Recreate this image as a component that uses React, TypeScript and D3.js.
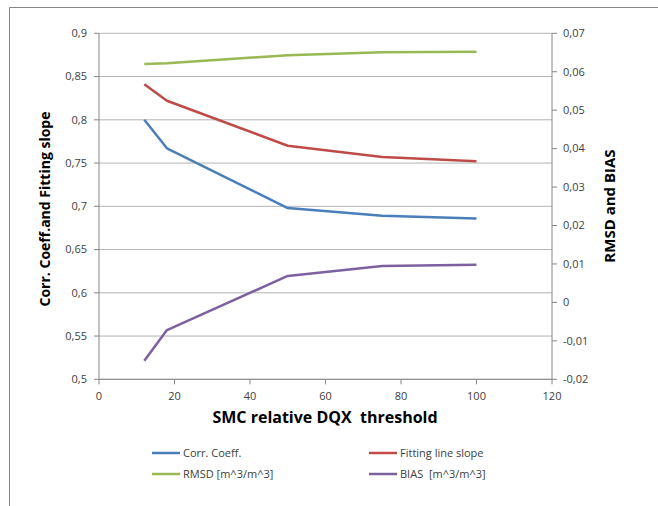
import React from "react";
import * as d3 from "d3";

const thresholds = [12, 18, 50, 75, 100];
const corrCoeff = [0.8, 0.767, 0.698, 0.689, 0.686];
const fittingSlope = [0.841, 0.822, 0.77, 0.757, 0.752];
const rmsd = [0.062, 0.0622, 0.0643, 0.0651, 0.0652];
const bias = [-0.0152, -0.0072, 0.0069, 0.0095, 0.0098];

const xTicks = [0, 20, 40, 60, 80, 100, 120];
const leftTicks = [0.5, 0.55, 0.6, 0.65, 0.7, 0.75, 0.8, 0.85, 0.9];
const rightTicks = [-0.02, -0.01, 0, 0.01, 0.02, 0.03, 0.04, 0.05, 0.06, 0.07];

const W = 658;
const H = 506;
const PL = 99, PR = 552, PT = 33.3, PB = 379.3;
const FONT = "'Open Sans', 'Noto Sans', sans-serif";

const fmt = (v: number) => {
  const s = String(+v.toFixed(3));
  return s.replace(".", ",");
};

export default function App() {
  const x = d3.scaleLinear().domain([0, 120]).range([PL, PR]);
  const yL = d3.scaleLinear().domain([0.5, 0.9]).range([PB, PT]);
  const yR = d3.scaleLinear().domain([-0.02, 0.07]).range([PB, PT]);

  const series = [
    { name: "Corr. Coeff.", vals: corrCoeff, color: "#4A7EBB", axis: yL },
    { name: "Fitting line slope", vals: fittingSlope, color: "#BE4B48", axis: yL },
    { name: "RMSD [m^3/m^3]", vals: rmsd, color: "#98B954", axis: yR },
    { name: "BIAS  [m^3/m^3]", vals: bias, color: "#7D60A0", axis: yR },
  ];

  const legendPos = [
    { lx: 152, ty: 453 },
    { lx: 369, ty: 453 },
    { lx: 152, ty: 474 },
    { lx: 369, ty: 474 },
  ];

  const axisColor = "#868686";
  const gridColor = "#B3B3B3";
  const textColor = "#404040";

  return (
    <svg
      width={W}
      height={H}
      style={{ position: "absolute", left: 0, top: 0, background: "#fff" }}
      fontFamily={FONT}
    >
      <rect x={0} y={0} width={W} height={H} fill="#fff" />
      {/* outer frame */}
      <path d={`M9.5,${H + 2} V7.5 H${W + 2}`} fill="none" stroke={axisColor} strokeWidth={1} />

      {/* gridlines */}
      {leftTicks.map((t) => (
        <line key={"g" + t} x1={PL} x2={PR} y1={yL(t)} y2={yL(t)} stroke={gridColor} strokeWidth={1} />
      ))}

      {/* left axis */}
      <line x1={PL} x2={PL} y1={PT} y2={PB} stroke={axisColor} />
      {leftTicks.map((t) => (
        <g key={"l" + t}>
          <line x1={PL - 5} x2={PL} y1={yL(t)} y2={yL(t)} stroke={axisColor} />
          <text x={87} y={yL(t)} dy="0.35em" textAnchor="end" fontSize={11} fill={textColor}>
            {fmt(t)}
          </text>
        </g>
      ))}

      {/* right axis */}
      <line x1={PR} x2={PR} y1={PT} y2={PB} stroke={axisColor} />
      {rightTicks.map((t) => (
        <g key={"r" + t}>
          <line x1={PR} x2={PR + 5} y1={yR(t)} y2={yR(t)} stroke={axisColor} />
          <text x={563} y={yR(t)} dy="0.35em" textAnchor="start" fontSize={11} fill={textColor}>
            {fmt(t)}
          </text>
        </g>
      ))}

      {/* x axis */}
      <line x1={PL} x2={PR} y1={PB} y2={PB} stroke={axisColor} />
      {xTicks.map((t) => (
        <g key={"x" + t}>
          <line x1={x(t)} x2={x(t)} y1={PB} y2={PB + 5} stroke={axisColor} />
          <text x={x(t)} y={396} dy="0.35em" textAnchor="middle" fontSize={11} fill={textColor}>
            {t}
          </text>
        </g>
      ))}

      {/* lines */}
      {series.map((s) => {
        const line = d3
          .line<number>()
          .x((_, i) => x(thresholds[i]))
          .y((v) => s.axis(v));
        return (
          <path
            key={s.name}
            d={line(s.vals) || ""}
            fill="none"
            stroke={s.color}
            strokeWidth={2.5}
            strokeLinejoin="round"
          />
        );
      })}

      {/* axis titles */}
      <text
        transform={`translate(45,209) rotate(-90)`}
        textAnchor="middle"
        dy="0.35em"
        fontSize={14}
        fontWeight="bold"
        fill="#000"
      >
        Corr. Coeff.and Fitting slope
      </text>
      <text
        transform={`translate(610,206) rotate(-90)`}
        textAnchor="middle"
        dy="0.35em"
        fontSize={15}
        fontWeight="bold"
        fill="#000"
      >
        RMSD and BIAS
      </text>
      <text x={325} y={417} dy="0.35em" textAnchor="middle" fontSize={16} fontWeight="bold" fill="#000" style={{ whiteSpace: "pre" }}>
        {"SMC relative DQX  threshold"}
      </text>

      {/* legend */}
      {series.map((s, i) => (
        <g key={"lg" + i}>
          <line
            x1={legendPos[i].lx}
            x2={legendPos[i].lx + 28}
            y1={legendPos[i].ty}
            y2={legendPos[i].ty}
            stroke={s.color}
            strokeWidth={2.5}
          />
          <text
            x={legendPos[i].lx + 31}
            y={legendPos[i].ty}
            dy="0.35em"
            fontSize={11}
            fill={textColor}
            style={{ whiteSpace: "pre" }}
          >
            {s.name}
          </text>
        </g>
      ))}
    </svg>
  );
}
